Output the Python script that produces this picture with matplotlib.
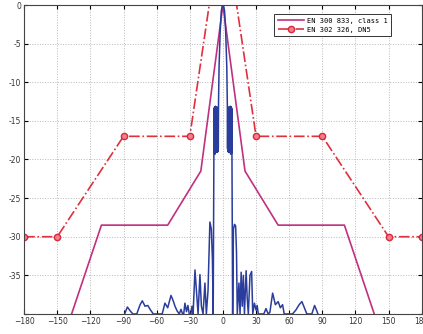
import matplotlib
matplotlib.use('Agg')
import matplotlib.pyplot as plt

# EN 300 833, class 1 mask
mask1_ang = [-137, -110, -50, -20, 0, 20, 50, 110, 137]
mask1_db = [-40, -28.5, -28.5, -21.5, 0, -21.5, -28.5, -28.5, -40]

# EN 302 326, DN5 mask
mask2_ang = [-180, -150, -90, -30, 0, 30, 90, 150, 180]
mask2_db = [-30, -30, -17, -17, 12, -17, -17, -30, -30]

# measured antenna pattern
pat_ang = [-89, -86.5, -84, -81.5,
           -78, -75, -73, -70.5, -68, -65.5, -63,
           -55, -52.5, -50, -47, -45, -43.4, -41.5, -39.5, -38, -36.5,
           -35.5, -34.4, -33, -31.7, -30.5, -29, -28, -27, -25.3, -24, -22.5,
           -20.8, -19.5, -18, -16.3, -15, -13.5, -11.8, -10.5, -9.5, -8.8,
           -8.2, -8.0, -7.8, -7.6, -7.4, -7.2, -7.0, -6.8, -6.6, -6.4, -6.2,
           -6.0, -5.8, -5.6, -5.4, -5.2, -5.0, -4.8, -4.6, -4.4, -4.2, -4.0,
           -3.5, -2.5, -1.5, -0.5, 0.5, 1.5, 2.5, 3.5,
           4.0, 4.2, 4.4, 4.6, 4.8, 5.0, 5.2, 5.4, 5.6, 5.8, 6.0, 6.2, 6.4,
           6.6, 6.8, 7.0, 7.2, 7.4, 7.6, 7.8, 8.0, 8.2,
           8.8, 9.5, 10.5, 11.5, 12.3, 13, 14.5, 15.5, 16.5, 17.5, 18.5, 19.5, 21, 22,
           23, 24.5, 26, 27, 28.5, 30, 31, 32, 37, 39, 41, 42.5, 45, 47.5, 50,
           52, 54, 55.5, 63, 66, 69, 71.5, 74, 76, 80.5, 83, 85, 86]
pat_db = [-40, -39.1, -39.6, -40,
          -40, -38.8, -38.3, -39.0, -38.9, -39.5, -40,
          -40, -38.6, -39.2, -37.6, -38.3, -39.0, -39.6, -40, -39.4, -40,
          -40, -38.6, -39.7, -38.9, -40, -40, -39.0, -40, -34.3, -37, -40,
          -34.9, -39, -40, -36, -40, -37, -28.1, -29, -33, -40,
          -20, -13.4, -19.2, -13.2, -18.9, -13.5, -19.3, -13.1, -18.8, -13.6, -19.0,
          -13.2, -18.7, -13.4, -19.1, -13.3, -18.8, -13.5, -19.0, -13.2, -18.6, -13.0,
          -8, -3.5, -0.8, 0, 0, -0.8, -3.5, -8,
          -13.0, -18.6, -13.3, -19.0, -13.5, -18.8, -13.2, -19.1, -13.4, -18.7, -13.2,
          -19.0, -13.6, -18.8, -13.1, -19.3, -13.5, -18.9, -13.2, -19.2, -13.4, -20,
          -40, -29, -28.4, -28.6, -32, -40, -36, -40, -34.6, -39, -35, -40, -34.4, -38,
          -40, -35, -34.5, -40, -38.6, -39.5, -38.9, -40, -40, -39.3, -40, -39.8, -37.3, -38.8, -38.4,
          -39.2, -38.8, -40, -40, -39.5, -38.8, -38.4, -39.3, -40, -40, -38.9, -39.6, -40]

xticks = list(range(-180, 181, 30))
yticks = list(range(-40, 1, 5))
ytick_labels = [''] + [str(v) for v in yticks[1:]]

fig = plt.figure(figsize=(4.23, 3.34), dpi=100)
ax = fig.add_axes([0.057, 0.06, 0.94, 0.925])

l1, = ax.plot(mask1_ang, mask1_db, '-', color='#c0307f', lw=1.2, label='EN 300 833, class 1')
l2, = ax.plot(mask2_ang, mask2_db, '-.', color='#e0303e', lw=1.2, marker='o',
              markersize=4.5, markerfacecolor='#f08090', markeredgecolor='#d8283a',
              label='EN 302 326, DN5')
ax.plot(pat_ang, pat_db, '-', color='#2a3c9c', lw=1.1, zorder=3)

ax.set_xlim(-180, 180)
ax.set_ylim(-40, 0)
ax.set_xticks(xticks)
ax.set_yticks(yticks)
ax.set_yticklabels(ytick_labels)
ax.tick_params(direction='in', top=True, right=True, labelsize=5.5, length=3,
               labelcolor='#333333', pad=2)
ax.grid(True, linestyle=':', color='#b8b8b8', lw=0.7)
for s in ax.spines.values():
    s.set_color('#444444')
    s.set_linewidth(0.8)

leg = ax.legend(handles=[l1, l2], loc='upper right', bbox_to_anchor=(0.932, 0.982),
                prop={'family': 'DejaVu Sans Mono', 'size': 5},
                fancybox=False, edgecolor='#333333', framealpha=1,
                handlelength=3.8, borderpad=0.5, labelspacing=0.45, handletextpad=0.4)
leg.get_frame().set_linewidth(0.7)

fig.savefig('out.png', dpi=100)
